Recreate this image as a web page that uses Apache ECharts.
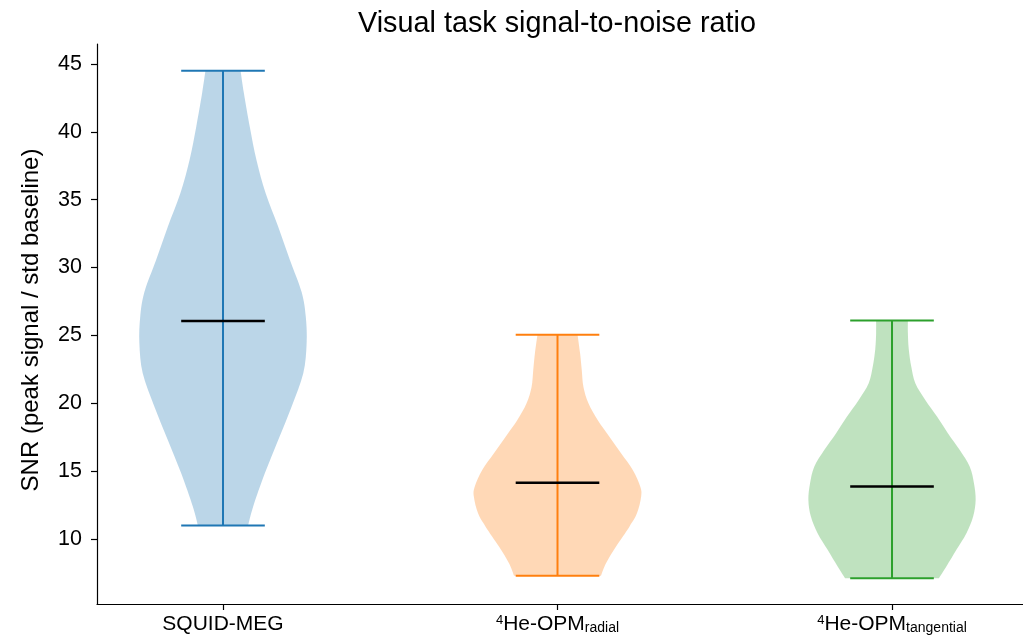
<!DOCTYPE html>
<html>
<head>
<meta charset="utf-8">
<script src="https://cdn.jsdelivr.net/npm/echarts@6/dist/echarts.min.js"></script>
<style>
html, body { margin: 0; padding: 0; background: #fff; }
#chart { width: 1023px; height: 637px; }
</style>
</head>
<body>
<div id="chart"></div>
<script>
// ---- data ----
const titleText = 'Visual task signal-to-noise ratio';
const yAxisTitle = 'SNR (peak signal / std baseline)';
const positions = [1, 2, 3];
const catMain = ['SQUID-MEG', 'He-OPM', 'He-OPM'];
const catSup = ['', '4', '4'];
const catSub = ['', 'radial', 'tangential'];
const yTicks = [10, 15, 20, 25, 30, 35, 40, 45];

const mins = [11.0, 7.30, 7.10];
const maxs = [44.5, 25.05, 26.1];
const centers = [26.06, 14.15, 13.86];

// density profiles (relative width, 1 = widest)
const squidY = [11.0, 12.38, 14.84, 17.29, 19.75, 22.21, 24.42, 26.38, 28.2, 30.56, 33.01, 35.47, 37.93, 40.38, 42.84, 44.5];
const squidD = [0.30, 0.36, 0.50, 0.66, 0.82, 0.96, 1.0, 0.99, 0.94, 0.80, 0.66, 0.51, 0.40, 0.32, 0.25, 0.21];
const radialY = [7.30, 8.21, 9.44, 10.91, 11.89, 13.12, 13.85, 15.08, 16.31, 17.54, 18.77, 20.0, 21.2, 22.45, 23.68, 25.05];
const radialD = [0.52, 0.58, 0.70, 0.86, 0.95, 1.0, 0.99, 0.90, 0.76, 0.62, 0.48, 0.37, 0.31, 0.29, 0.27, 0.24];
const tangY = [7.10, 7.97, 9.2, 10.42, 11.65, 12.87, 14.1, 15.33, 16.56, 17.78, 19.0, 20.23, 21.45, 22.7, 24.0, 25.16, 26.1];
const tangD = [0.56, 0.65, 0.77, 0.89, 0.97, 1.0, 0.98, 0.93, 0.81, 0.67, 0.54, 0.40, 0.28, 0.23, 0.20, 0.19, 0.19];

const profilesY = [squidY, radialY, tangY];
const profilesD = [squidD, radialD, tangD];

// ---- style ----
const colors = ['#1f77b4', '#ff7f0e', '#2ca02c'];
const HALF = 0.25;      // half body width in x units
const CAP = 0.125;      // half cap width
const FONT = 'Liberation Sans, Arial, sans-serif';

function catmullPath(pts) {
  let s = '';
  const n = pts.length;
  for (let i = 0; i < n - 1; i++) {
    const p0 = pts[Math.max(i - 1, 0)];
    const p1 = pts[i];
    const p2 = pts[i + 1];
    const p3 = pts[Math.min(i + 2, n - 1)];
    const c1x = p1[0] + (p2[0] - p0[0]) / 6;
    const c1y = p1[1] + (p2[1] - p0[1]) / 6;
    const c2x = p2[0] - (p3[0] - p1[0]) / 6;
    const c2y = p2[1] - (p3[1] - p1[1]) / 6;
    s += ' C' + c1x + ' ' + c1y + ' ' + c2x + ' ' + c2y + ' ' + p2[0] + ' ' + p2[1];
  }
  return s;
}

function renderItem(params, api) {
  const i = params.dataIndex;
  const pos = api.value(0);
  const ys = profilesY[i], ds = profilesD[i];
  const right = ys.map((y, k) => api.coord([pos + ds[k] * HALF, y]));
  const left = ys.map((y, k) => api.coord([pos - ds[k] * HALF, y])).reverse();
  let d = 'M' + right[0][0] + ' ' + right[0][1] + catmullPath(right);
  d += ' L' + left[0][0] + ' ' + left[0][1] + catmullPath(left) + ' Z';
  const c = colors[i];
  const lo = api.value(1), hi = api.value(2), mid = api.value(3);
  const line = (a, b, color, w) => ({
    type: 'line',
    shape: { x1: a[0], y1: a[1], x2: b[0], y2: b[1] },
    style: { stroke: color, lineWidth: w }
  });
  return {
    type: 'group',
    children: [
      { type: 'path', shape: { pathData: d }, style: { fill: c, opacity: 0.3, stroke: null } },
      line(api.coord([pos, lo]), api.coord([pos, hi]), c, 2),
      line(api.coord([pos - CAP, hi]), api.coord([pos + CAP, hi]), c, 2),
      line(api.coord([pos - CAP, lo]), api.coord([pos + CAP, lo]), c, 2),
      line(api.coord([pos - CAP, mid]), api.coord([pos + CAP, mid]), '#000', 2.5)
    ]
  };
}

const chart = echarts.init(document.getElementById('chart'), null, { renderer: 'canvas' });
chart.setOption({
  animation: false,
  backgroundColor: '#fff',
  title: {
    text: titleText,
    left: 552,
    top: 5,
    textAlign: 'center',
    textStyle: { fontFamily: FONT, fontSize: 28.8, fontWeight: 'normal', color: '#000' }
  },
  grid: { left: 97, right: 0, top: 44, bottom: 33, containLabel: false },
  xAxis: {
    type: 'value',
    min: 0.6233,
    max: 3.3916,
    splitLine: { show: false },
    axisLine: { show: true, lineStyle: { color: '#000', width: 1.2 } },
    axisTick: { show: true, length: 6, customValues: positions, lineStyle: { color: '#000', width: 1.2 } },
    axisLabel: {
      customValues: positions,
      margin: 10,
      color: '#000',
      fontFamily: FONT,
      fontSize: 21,
      formatter: function (v) {
        const i = positions.indexOf(Math.round(v));
        if (i < 0) return '';
        let s = '';
        if (catSup[i]) s += '{sup|' + catSup[i] + '}';
        s += catMain[i];
        if (catSub[i]) s += '{sub|' + catSub[i] + '}';
        return s;
      },
      rich: {
        sup: { fontSize: 13, fontFamily: FONT, color: '#000', verticalAlign: 'top' },
        sub: { fontSize: 14, fontFamily: FONT, color: '#000', verticalAlign: 'bottom' }
      }
    }
  },
  yAxis: {
    type: 'value',
    min: 5.21,
    max: 46.47,
    name: yAxisTitle,
    nameLocation: 'middle',
    nameRotate: 90,
    nameGap: 54,
    nameTextStyle: { fontFamily: FONT, fontSize: 24, color: '#000', padding: [0, 0, 0, 8] },
    splitLine: { show: false },
    axisLine: { show: true, lineStyle: { color: '#000', width: 1.2 } },
    axisTick: { show: true, length: 6, customValues: yTicks, lineStyle: { color: '#000', width: 1.2 } },
    axisLabel: {
      customValues: yTicks,
      margin: 15,
      color: '#000',
      fontFamily: FONT,
      fontSize: 21.5
    }
  },
  series: [{
    type: 'custom',
    renderItem: renderItem,
    encode: { x: 0, y: [1, 2] },
    data: positions.map((p, i) => [p, mins[i], maxs[i], centers[i]])
  }]
});
</script>
</body>
</html>
